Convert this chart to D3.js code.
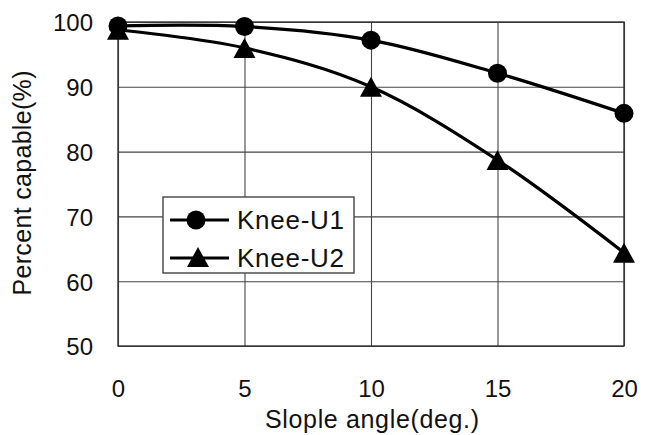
<!DOCTYPE html>
<html>
<head>
<meta charset="utf-8">
<script src="https://cdn.jsdelivr.net/npm/d3@7/dist/d3.min.js"></script>
<style>
  html, body { margin: 0; padding: 0; background: #fff; }
  svg { display: block; font-family: "Liberation Sans", Arial, sans-serif; }
</style>
</head>
<body>
<svg id="chart" width="653" height="435"></svg>
<script>
// ---- data ----
const angles = [0, 5, 10, 15, 20];
const kneeU1 = [99.4, 99.3, 97.2, 92.1, 85.9];
const kneeU2 = [98.8, 96.0, 90.0, 78.7, 64.4];
const seriesNames = ["Knee-U1", "Knee-U2"];
const xTickLabels = [0, 5, 10, 15, 20];
const yTickLabels = [50, 60, 70, 80, 90, 100];
const xTitle = "Slople angle(deg.)";
const yTitle = "Percent capable(%)";

(function () {
// ---- layout ----
const svg = d3.select("#chart");
const mLeft = 118, mRight = 624, mTop = 22, mBottom = 346;
const plotW = mRight - mLeft, plotH = mBottom - mTop;

const x = d3.scaleLinear().domain([0, 20]).range([mLeft, mRight]);
const y = d3.scaleLinear().domain([50, 100]).range([mBottom, mTop]);

const gridColor = "#444";

// Y axis with gridlines
const gy = svg.append("g")
  .attr("transform", `translate(${mLeft},0)`)
  .call(d3.axisLeft(y).tickValues(yTickLabels).tickSize(-plotW).tickPadding(25));
gy.select(".domain").remove();
gy.selectAll(".tick line").attr("stroke", gridColor).attr("stroke-width", 1.1);
gy.selectAll(".tick text").attr("font-size", 24).attr("fill", "#111")
  .attr("font-family", "'Liberation Sans', Arial, sans-serif").attr("dy", "0.37em");

// X axis with gridlines
const gx = svg.append("g")
  .attr("transform", `translate(0,${mBottom})`)
  .call(d3.axisBottom(x).tickValues(xTickLabels).tickSize(-plotH).tickPadding(34));
gx.select(".domain").remove();
gx.selectAll(".tick line").attr("stroke", gridColor).attr("stroke-width", 1.1);
gx.selectAll(".tick text").attr("font-size", 24).attr("fill", "#111")
  .attr("font-family", "'Liberation Sans', Arial, sans-serif");

// plot border
svg.append("rect")
  .attr("x", mLeft).attr("y", mTop).attr("width", plotW).attr("height", plotH)
  .attr("fill", "none").attr("stroke", "#333").attr("stroke-width", 1.4);

// ---- series ----
const line = d3.line()
  .x((d, i) => x(angles[i]))
  .y(d => y(d))
  .curve(d3.curveCardinal.tension(0));

[kneeU1, kneeU2].forEach((vals) => {
  svg.append("path")
    .datum(vals)
    .attr("d", line)
    .attr("fill", "none")
    .attr("stroke", "#000")
    .attr("stroke-width", 3.2);
});

function triangle(g, cx, cy) {
  const w = 22, h = 20;
  g.append("path")
    .attr("d", `M${cx},${cy - h / 2} L${cx + w / 2},${cy + h / 2} L${cx - w / 2},${cy + h / 2} Z`)
    .attr("fill", "#000");
}

kneeU2.forEach((v, i) => triangle(svg, x(angles[i]), y(v)));
svg.selectAll("circle.u1")
  .data(kneeU1)
  .enter().append("circle")
  .attr("class", "u1")
  .attr("cx", (d, i) => x(angles[i]))
  .attr("cy", d => y(d))
  .attr("r", 9.5)
  .attr("fill", "#000");

// ---- legend ----
const lg = svg.append("g");
lg.append("rect")
  .attr("x", 163).attr("y", 197).attr("width", 191).attr("height", 76)
  .attr("fill", "#fff").attr("stroke", "#444").attr("stroke-width", 1.4);

const legendRows = [220, 258];
legendRows.forEach((ly, i) => {
  lg.append("line")
    .attr("x1", 170).attr("x2", 229).attr("y1", ly).attr("y2", ly)
    .attr("stroke", "#000").attr("stroke-width", 3.2);
  if (i === 0) {
    lg.append("circle").attr("cx", 196).attr("cy", ly).attr("r", 9.5).attr("fill", "#000");
  } else {
    triangle(lg, 198, ly - 1);
  }
  lg.append("text")
    .attr("x", 237).attr("y", ly + 9)
    .attr("font-size", 26)
    .attr("fill", "#111")
    .attr("textLength", 107)
    .attr("lengthAdjust", "spacing")
    .text(seriesNames[i]);
});

// ---- axis titles ----
svg.append("text")
  .attr("x", 372).attr("y", 428)
  .attr("text-anchor", "middle")
  .attr("font-size", 25)
  .attr("fill", "#111")
  .attr("textLength", 214)
  .attr("lengthAdjust", "spacing")
  .text(xTitle);

svg.append("text")
  .attr("transform", "translate(31,183) rotate(-90)")
  .attr("text-anchor", "middle")
  .attr("font-size", 25)
  .attr("fill", "#111")
  .attr("textLength", 225)
  .attr("lengthAdjust", "spacing")
  .text(yTitle);
})();
</script>
</body>
</html>
